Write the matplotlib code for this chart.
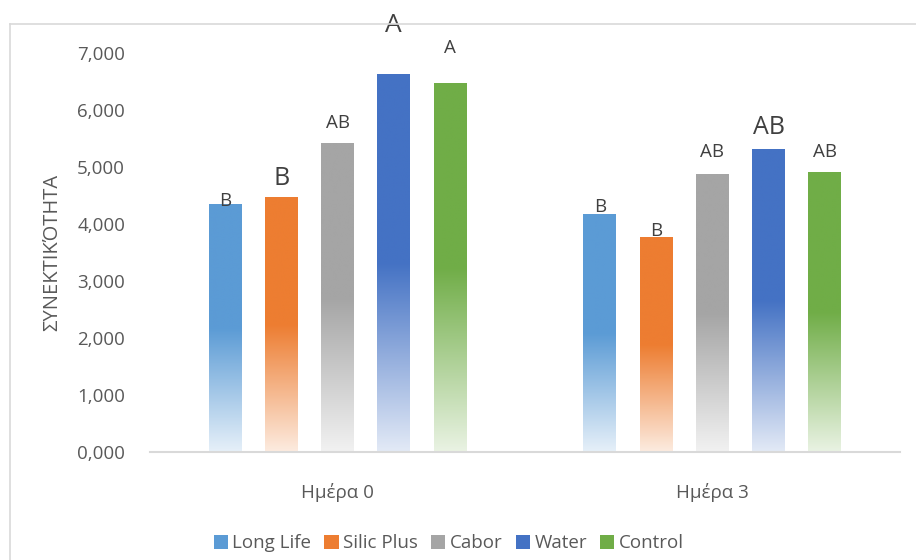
import numpy as np
import matplotlib
matplotlib.use('Agg')
import matplotlib.pyplot as plt
from matplotlib.colors import to_rgb
from matplotlib.patches import Patch
from matplotlib.lines import Line2D

plt.rcParams['font.family'] = ['Open Sans', 'DejaVu Sans']

days = ['Ημέρα 0', 'Ημέρα 3']
treatments = ['Long Life', 'Silic Plus', 'Cabor', 'Water', 'Control']
colors = ['#5B9BD5', '#ED7D31', '#A5A5A5', '#4472C4', '#70AD47']

# firmness per treatment, one value per day
long_life = [4.35, 4.17]
silic_plus = [4.47, 3.76]
cabor = [5.42, 4.86]
water = [6.63, 5.31]
control = [6.47, 4.90]

# significance letters per treatment, one per day
letters_long_life = ['B', 'B']
letters_silic_plus = ['B', 'B']
letters_cabor = ['AB', 'AB']
letters_water = ['A', 'AB']
letters_control = ['A', 'AB']

series = [long_life, silic_plus, cabor, water, control]
letters = [letters_long_life, letters_silic_plus, letters_cabor, letters_water, letters_control]

# font size and gap (points) of each letter above its bar
letter_size = [[13.5, 13.5], [18, 13.5], [13.5, 13.5], [19, 18], [13.5, 13.5]]
letter_gap = [[-1.5, 2], [8.6, 1.5], [10.8, 13], [30, 11], [22, 11]]

text_col = '#595959'
line_col = '#D9D9D9'


def gradient_img(color, n=256):
    # solid in the upper half, fading towards white at the bottom
    rgb = np.array(to_rgb(color))
    t = np.linspace(0, 1, n)  # 0 = top, 1 = bottom
    mix = np.clip((t - 0.5) / 0.5, 0, 1) * 0.85
    rows = rgb[None, :] * (1 - mix[:, None]) + mix[:, None]
    return rows[:, None, :]


fig = plt.figure(figsize=(9.16, 5.6), dpi=100)
ax = fig.add_axes([0.1638, 0.1929, 0.8187, 0.7125])

x = np.arange(len(days))
width = 0.088
step = 0.15

for i, (vals, col) in enumerate(zip(series, colors)):
    bars = ax.bar(x + (i - 2) * step, vals, width, color='none', edgecolor='none')
    for j, b in enumerate(bars):
        x0, y0 = b.get_x(), b.get_y()
        w, h = b.get_width(), b.get_height()
        ax.imshow(gradient_img(col), extent=[x0, x0 + w, y0, y0 + h],
                  aspect='auto', interpolation='bilinear', zorder=2)
        ax.annotate(letters[i][j], (x0 + w / 2, y0 + h),
                    xytext=(0, letter_gap[i][j]), textcoords='offset points',
                    ha='center', va='baseline', fontsize=letter_size[i][j],
                    color='#404040', annotation_clip=False)

ax.set_xlim(-0.5, len(days) - 0.5)
ax.set_ylim(0, 7)
ax.set_yticks(np.arange(0, 8, 1))
ax.set_yticklabels([('%.3f' % v).replace('.', ',') for v in np.arange(0, 8, 1)])
ax.set_xticks(x)
ax.set_xticklabels(days)

for s in ['top', 'right', 'left']:
    ax.spines[s].set_visible(False)
ax.spines['bottom'].set_color(line_col)
ax.spines['bottom'].set_linewidth(1.5)
ax.tick_params(axis='both', length=0, labelsize=13.5, labelcolor=text_col)
ax.tick_params(axis='y', pad=18)
ax.tick_params(axis='x', pad=22)

ax.set_ylabel('ΣΥΝΕΚΤΙΚΌΤΗΤΑ', fontsize=14.5, color=text_col, labelpad=11)

handles = [Patch(facecolor=c, edgecolor='none') for c in colors]
fig.legend(handles, treatments, loc='center', bbox_to_anchor=(0.49, 0.03), ncol=5,
           frameon=False, fontsize=13.5, labelcolor=text_col,
           handlelength=0.75, handleheight=0.75, handletextpad=0.25, columnspacing=0.7)

# chart frame
fig.add_artist(Line2D([10 / 916, 10 / 916], [0, 1 - 24 / 560], transform=fig.transFigure,
                      color=line_col, lw=1.2))
fig.add_artist(Line2D([10 / 916, 1], [1 - 24 / 560, 1 - 24 / 560], transform=fig.transFigure,
                      color=line_col, lw=1.2))

fig.savefig('out.png', dpi=100)
